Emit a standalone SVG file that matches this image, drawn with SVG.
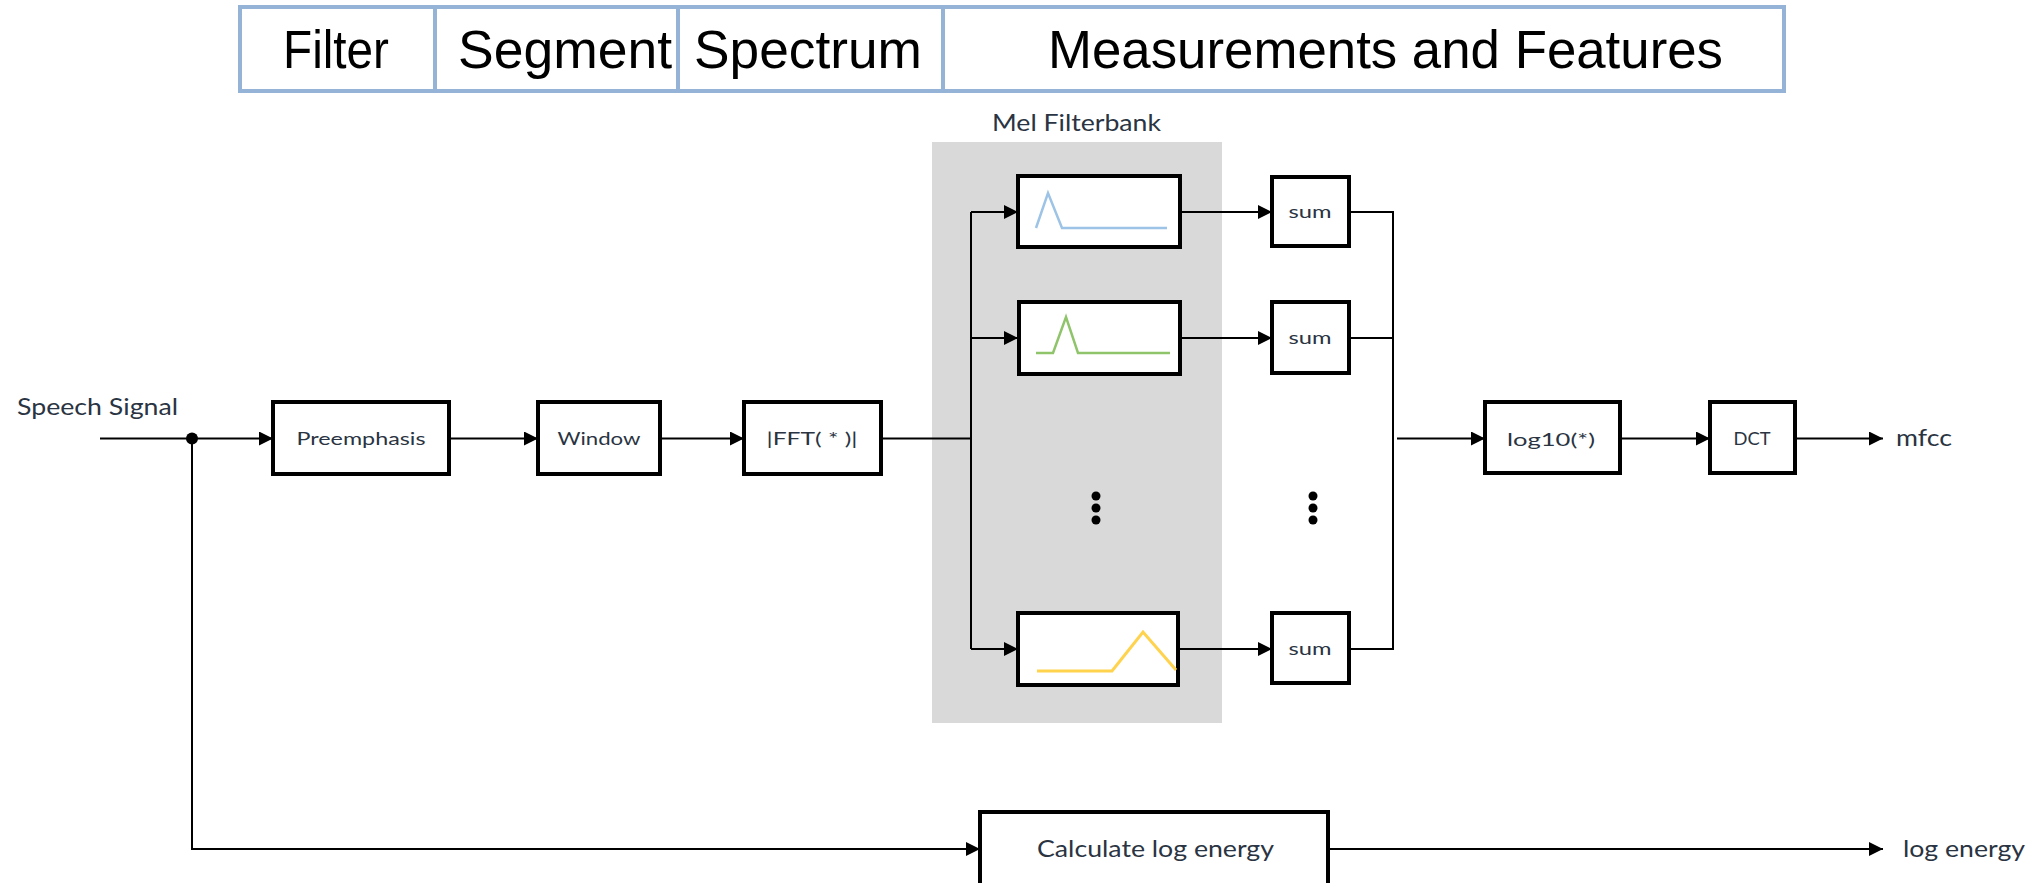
<svg xmlns="http://www.w3.org/2000/svg" width="2034" height="883" viewBox="0 0 2034 883">
<style>
.hdr{fill:#fff;stroke:#95b3d7;stroke-width:4}
.ht{font-family:"Liberation Sans",Arial,sans-serif;font-size:53px;fill:#000}
.box{fill:#fff;stroke:#000;stroke-width:4}
.wire{fill:none;stroke:#000;stroke-width:2}
.lbl{font-family:Lato,"Open Sans",sans-serif;fill:#2a3442}
.big{font-size:24px}
.sm{font-size:18px}
.dot{fill:#000}
</style>
<defs>
<marker id="arr" markerUnits="userSpaceOnUse" markerWidth="16" markerHeight="14" refX="14" refY="7" orient="auto">
<path d="M0,0 L14,7 L0,14 z" fill="#000"/>
</marker>
</defs>
<rect width="2034" height="883" fill="#fff"/>

<g id="header">
<rect class="hdr" x="240" y="7" width="195" height="84"/>
<rect class="hdr" x="435" y="7" width="243" height="84"/>
<rect class="hdr" x="678" y="7" width="265" height="84"/>
<rect class="hdr" x="943" y="7" width="841" height="84"/>
<text class="ht" x="283" y="68" textLength="106" lengthAdjust="spacingAndGlyphs">Filter</text>
<text class="ht" x="458" y="68" textLength="214" lengthAdjust="spacingAndGlyphs">Segment</text>
<text class="ht" x="694" y="68" textLength="228" lengthAdjust="spacingAndGlyphs">Spectrum</text>
<text class="ht" x="1048" y="68" textLength="675" lengthAdjust="spacingAndGlyphs">Measurements and Features</text>
</g>

<g id="melbank">
<rect x="932" y="142" width="290" height="581" fill="#d9d9d9"/>
<text class="lbl big" x="992" y="131" textLength="169" lengthAdjust="spacingAndGlyphs">Mel Filterbank</text>
</g>

<g id="connectors">
<path class="wire" d="M100,438.5 H273" marker-end="url(#arr)"/>
<path class="wire" d="M449,438.5 H538" marker-end="url(#arr)"/>
<path class="wire" d="M660,438.5 H744" marker-end="url(#arr)"/>
<path class="wire" d="M881,438.5 H971"/>
<path class="wire" d="M971,212 V649"/>
<path class="wire" d="M971,212 H1018" marker-end="url(#arr)"/>
<path class="wire" d="M971,338 H1018" marker-end="url(#arr)"/>
<path class="wire" d="M971,649 H1018" marker-end="url(#arr)"/>
<path class="wire" d="M1180,212 H1272" marker-end="url(#arr)"/>
<path class="wire" d="M1180,338 H1272" marker-end="url(#arr)"/>
<path class="wire" d="M1180,649 H1272" marker-end="url(#arr)"/>
<path class="wire" d="M1349,212 H1393 V649 H1349"/>
<path class="wire" d="M1349,338 H1393"/>
<path class="wire" d="M1397,438.5 H1485" marker-end="url(#arr)"/>
<path class="wire" d="M1620,438.5 H1710" marker-end="url(#arr)"/>
<path class="wire" d="M1795,438.5 H1883" marker-end="url(#arr)"/>
<path class="wire" d="M192,438.5 V849 H980" marker-end="url(#arr)"/>
<path class="wire" d="M1328,849 H1883" marker-end="url(#arr)"/>
<circle class="dot" cx="192" cy="438.5" r="6"/>
</g>

<g id="speech">
<text class="lbl big" x="17" y="415" textLength="161" lengthAdjust="spacingAndGlyphs">Speech Signal</text>
</g>

<g id="preemphasis">
<rect class="box" x="273" y="402" width="176" height="72"/>
<text class="lbl sm" x="361" y="445" text-anchor="middle" textLength="129" lengthAdjust="spacingAndGlyphs">Preemphasis</text>
</g>

<g id="window">
<rect class="box" x="538" y="402" width="122" height="72"/>
<text class="lbl sm" x="599" y="445" text-anchor="middle" textLength="83" lengthAdjust="spacingAndGlyphs">Window</text>
</g>

<g id="fft">
<rect class="box" x="744" y="402" width="137" height="72"/>
<text class="lbl sm" x="812" y="445" text-anchor="middle" textLength="91" lengthAdjust="spacingAndGlyphs">|FFT( * )|</text>
</g>

<g id="filter1">
<rect class="box" x="1018" y="176" width="162" height="71"/>
<polyline points="1036,228 1048,193 1062,228 1167,228" fill="none" stroke="#9dc3e6" stroke-width="2.5"/>
</g>

<g id="filter2">
<rect class="box" x="1019" y="302" width="161" height="72"/>
<polyline points="1036,353 1053,353 1066,317 1078,353 1170,353" fill="none" stroke="#8fc46b" stroke-width="2.5"/>
</g>

<g id="filter3">
<rect class="box" x="1018" y="613" width="160" height="72"/>
<polyline points="1037,671 1112,671 1143,632 1176,670" fill="none" stroke="#ffd34d" stroke-width="3"/>
</g>

<g id="dots1">
<circle class="dot" cx="1096" cy="496" r="4.5"/>
<circle class="dot" cx="1096" cy="508" r="4.5"/>
<circle class="dot" cx="1096" cy="520" r="4.5"/>
</g>

<g id="sum1">
<rect class="box" x="1272" y="177" width="77" height="69"/>
<text class="lbl sm" x="1310" y="218" text-anchor="middle" textLength="43" lengthAdjust="spacingAndGlyphs">sum</text>
</g>

<g id="sum2">
<rect class="box" x="1272" y="302" width="77" height="71"/>
<text class="lbl sm" x="1310" y="344" text-anchor="middle" textLength="43" lengthAdjust="spacingAndGlyphs">sum</text>
</g>

<g id="sum3">
<rect class="box" x="1272" y="613" width="77" height="70"/>
<text class="lbl sm" x="1310" y="655" text-anchor="middle" textLength="43" lengthAdjust="spacingAndGlyphs">sum</text>
</g>

<g id="dots2">
<circle class="dot" cx="1313" cy="496" r="4.5"/>
<circle class="dot" cx="1313" cy="508" r="4.5"/>
<circle class="dot" cx="1313" cy="520" r="4.5"/>
</g>

<g id="log10">
<rect class="box" x="1485" y="402" width="135" height="71"/>
<text class="lbl sm" x="1551" y="446" text-anchor="middle" textLength="88" lengthAdjust="spacingAndGlyphs">log10(*)</text>
</g>

<g id="dct">
<rect class="box" x="1710" y="402" width="85" height="71"/>
<text class="lbl sm" x="1752" y="445" text-anchor="middle" textLength="37" lengthAdjust="spacingAndGlyphs">DCT</text>
</g>

<g id="mfcc">
<text class="lbl big" x="1896" y="446" textLength="56" lengthAdjust="spacingAndGlyphs">mfcc</text>
</g>

<g id="logenergy">
<rect class="box" x="980" y="812" width="348" height="80"/>
<text class="lbl big" x="1037" y="857" textLength="237" lengthAdjust="spacingAndGlyphs">Calculate log energy</text>
</g>

<g id="logenergy-out">
<text class="lbl big" x="1903" y="857" textLength="122" lengthAdjust="spacingAndGlyphs">log energy</text>
</g>
</svg>
